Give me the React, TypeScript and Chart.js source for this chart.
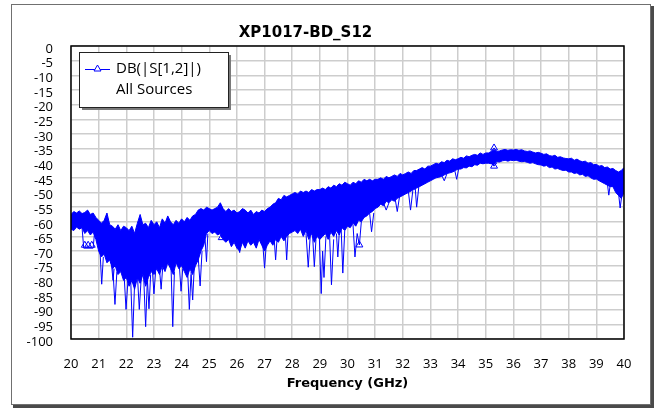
import React, { useEffect, useRef } from "react";
import { Chart, registerables } from "chart.js";

Chart.register(...registerables);

// ---------- data ----------
const TITLE = "XP1017-BD_S12";
const X_TITLE = "Frequency (GHz)";
const LEGEND_LINES = ["DB(|S[1,2]|)", "All Sources"];

const FREQ_GHZ = [
  20.0,
  20.1, 20.2, 20.3, 20.4, 20.5, 20.6, 20.7, 20.8, 20.9, 21.0,
  21.1, 21.2, 21.3, 21.4, 21.5, 21.6, 21.7, 21.8, 21.9, 22.0,
  22.1, 22.2, 22.3, 22.4, 22.5, 22.6, 22.7, 22.8, 22.9, 23.0,
  23.1, 23.2, 23.3, 23.4, 23.5, 23.6, 23.7, 23.8, 23.9, 24.0,
  24.1, 24.2, 24.3, 24.4, 24.5, 24.6, 24.7, 24.8, 24.9, 25.0,
  25.1, 25.2, 25.3, 25.4, 25.5, 25.6, 25.7, 25.8, 25.9, 26.0,
  26.1, 26.2, 26.3, 26.4, 26.5, 26.6, 26.7, 26.8, 26.9, 27.0,
  27.1, 27.2, 27.3, 27.4, 27.5, 27.6, 27.7, 27.8, 27.9, 28.0,
  28.1, 28.2, 28.3, 28.4, 28.5, 28.6, 28.7, 28.8, 28.9, 29.0,
  29.1, 29.2, 29.3, 29.4, 29.5, 29.6, 29.7, 29.8, 29.9, 30.0,
  30.1, 30.2, 30.3, 30.4, 30.5, 30.6, 30.7, 30.8, 30.9, 31.0,
  31.1, 31.2, 31.3, 31.4, 31.5, 31.6, 31.7, 31.8, 31.9, 32.0,
  32.1, 32.2, 32.3, 32.4, 32.5, 32.6, 32.7, 32.8, 32.9, 33.0,
  33.1, 33.2, 33.3, 33.4, 33.5, 33.6, 33.7, 33.8, 33.9, 34.0,
  34.1, 34.2, 34.3, 34.4, 34.5, 34.6, 34.7, 34.8, 34.9, 35.0,
  35.1, 35.2, 35.3, 35.4, 35.5, 35.6, 35.7, 35.8, 35.9, 36.0,
  36.1, 36.2, 36.3, 36.4, 36.5, 36.6, 36.7, 36.8, 36.9, 37.0,
  37.1, 37.2, 37.3, 37.4, 37.5, 37.6, 37.7, 37.8, 37.9, 38.0,
  38.1, 38.2, 38.3, 38.4, 38.5, 38.6, 38.7, 38.8, 38.9, 39.0,
  39.1, 39.2, 39.3, 39.4, 39.5, 39.6, 39.7, 39.8, 39.9, 40.0,
];

// upper edge of the dense band of all traces (dB)
const UPPER_DB = [
  -57.5,
  -56.5, -57, -56.3, -57.2, -56.8, -56, -57.5, -57, -58.5, -59.5,
  -60.5, -59.5, -57, -61, -61.5, -62.5, -61, -63, -61.5, -62,
  -63, -61.5, -64, -60.5, -57.5, -61, -60.5, -62, -59.5, -61,
  -60, -62, -59, -60.5, -58, -60, -61, -59.5, -60.5, -59,
  -60, -58.5, -59.5, -58, -57.5, -56, -55.5, -56, -55, -55.5,
  -56, -55.5, -55, -53.5, -55.5, -56.5, -55.5, -56.5, -56, -57,
  -56.5, -55.5, -56, -57, -56, -57.5, -56.5, -57, -56, -56.5,
  -55.5, -55, -54, -53.5, -52, -52.5, -51, -51.5, -51, -50.5,
  -50, -50.5, -49.5, -50, -49.5, -50, -49, -49.5, -49, -49,
  -48.5, -49, -48, -48.5, -47.5, -48, -47, -47.5, -46.5, -47,
  -47.5, -46.5, -47, -46, -46.5, -45.5, -46, -45.5, -46, -45.5,
  -45.5, -45, -45.5, -44.5, -45, -44.5, -44, -44.5, -43.5, -44,
  -43.5, -43, -43.5, -42.5, -42.5, -42, -41.5, -42, -41, -41,
  -40.5, -40, -40.3, -39.5, -39.8, -39, -39.3, -38.5, -38.8, -38.5,
  -38, -38.3, -37.5, -37.8, -37.3, -37, -37.3, -36.5, -37, -36.5,
  -36.5, -36, -35.5, -36, -35.8, -35.5, -35.3, -35.6, -35.4, -35.5,
  -35.3, -35.6, -35.4, -35.8, -36, -35.8, -36.2, -36.5, -36.3, -36.6,
  -37, -36.8, -37.4, -37.6, -37.3, -38, -37.8, -38.2, -38.4, -38.5,
  -38.3, -39, -38.6, -39.2, -39.5, -39.3, -40, -39.8, -40.5, -40.4,
  -41, -40.8, -41.5, -41.3, -42, -41.8, -42.5, -43, -42.5, -41.5,
];

// lower edge of the dense band of all traces (dB)
const LOWER_DB = [
  -62.5,
  -63, -61.8, -62.5, -62, -64, -63, -64.5, -63.5, -66, -70,
  -72, -71, -74, -73, -76, -75, -78, -77, -80, -79,
  -82, -80, -83, -79, -81, -78, -82, -79, -77, -78,
  -76, -78, -75, -77, -74, -76, -78, -74, -76, -75,
  -77, -79, -76, -78, -75, -73, -70, -68, -64, -63,
  -64, -63.5, -64.5, -64, -66, -67, -66, -68.5, -67, -69,
  -70, -67, -69, -66.5, -68, -67, -69, -66, -68, -70,
  -68, -66.5, -68, -66, -67, -65, -66.5, -65, -64, -63.5,
  -63, -64, -62.5, -65, -63, -66, -64, -67, -65, -66,
  -65, -64, -66, -63.5, -65, -63, -64.5, -62, -63, -61.5,
  -62, -60.5, -61.5, -59.5, -60, -58.5, -58, -57, -56.5, -55.5,
  -55, -54, -54.5, -53, -53.5, -52.5, -53, -52, -51.5, -51,
  -50.5, -50, -49.5, -49, -48.5, -48, -47.5, -47, -46.5, -46,
  -45.5, -45, -44.8, -44.5, -44, -43.5, -43.3, -43, -42.5, -42,
  -42, -41.5, -41.6, -41, -41.2, -40.5, -40.7, -40, -40.2, -40,
  -40, -40.2, -40.5, -39.5, -39.6, -39.2, -39, -39.3, -39, -39.1,
  -39, -39.3, -39.5, -39.4, -39.7, -40, -39.8, -40.2, -40.5, -40.6,
  -41, -40.8, -41.5, -41.3, -42, -41.8, -42.2, -42.5, -42.4, -43,
  -43, -43.5, -43.3, -44, -43.8, -44.5, -44.3, -45, -45.5, -45.4,
  -46, -46.5, -47, -47.5, -48, -48, -50, -51, -52, -50,
];

// individual trace excursions below / above the band (null = break)
const SPIKE_FREQ = [
  20.4, 20.46, 20.8, 20.86, 20.86,
  21.05, 21.11, 21.17, 21.17,
  21.45, 21.52, 21.56, 21.56,
  21.5, 21.59, 21.66, 21.66,
  21.92, 21.99, 22.06, 22.06,
  22.16, 22.23, 22.3, 22.3,
  22.4, 22.47, 22.54, 22.54,
  22.63, 22.7, 22.76, 22.76,
  22.76, 22.82, 22.88, 22.88,
  22.94, 23.0, 23.06, 23.06,
  23.2, 23.26, 23.32, 23.32,
  23.62, 23.68, 23.74, 23.74,
  23.92, 23.98, 24.04, 24.04,
  24.22, 24.28, 24.34, 24.34,
  24.34, 24.4, 24.46, 24.46,
  24.6, 24.67, 24.74, 24.74,
  24.85, 24.9, 24.95, 24.95,
  25.4, 25.45, 25.5, 25.5,
  26.05, 26.1, 26.15, 26.15,
  26.94, 27.0, 27.06, 27.06,
  27.35, 27.4, 27.45, 27.45,
  27.75, 27.8, 27.85, 27.85,
  28.5, 28.58, 28.65, 28.65,
  28.74, 28.8, 28.86, 28.86,
  28.98, 29.05, 29.1, 29.15, 29.22, 29.22,
  29.35, 29.42, 29.5, 29.5,
  29.6, 29.65, 29.7, 29.7,
  29.77, 29.83, 29.9, 29.9,
  30.2, 30.27, 30.35, 30.43, 30.5, 30.5,
  30.8, 30.87, 30.95, 30.95,
  31.3, 31.4, 31.5, 31.5,
  31.72, 31.8, 31.88, 31.88,
  32.2, 32.28, 32.36, 32.36,
  32.45, 32.5, 32.58, 32.58,
  33.4, 33.5, 33.6, 33.6,
  33.88, 33.95, 34.02, 34.02,
  35.2, 35.3, 35.4, 35.4,
  35.2, 35.3, 35.4, 35.4,
  39.4, 39.45, 39.5, 39.5,
  39.8, 39.86, 39.92,
];
const SPIKE_DB = [
  -62, -69, -69, -63, null,
  -70, -81.3, -72, null,
  -73, -80, -76, null,
  -74, -88.2, -77, null,
  -78, -89.9, -80, null,
  -80, -99.4, -81, null,
  -78, -89.9, -79, null,
  -79, -95.8, -80, null,
  -79, -89.7, -78, null,
  -76, -84.6, -77, null,
  -76, -83, -75, null,
  -76, -95.8, -77, null,
  -75, -83.7, -76, null,
  -77, -89.9, -78, null,
  -77, -86.7, -75, null,
  -72, -81.9, -70, null,
  -66, -73.6, -64, null,
  -63, -65.4, -64, null,
  -68, -70.5, -67, null,
  -68, -75.8, -68, null,
  -66, -73, -66, null,
  -64, -73, -64, null,
  -64, -75.5, -65, null,
  -65, -75.3, -66, null,
  -65, -84.5, -70, -79, -65, null,
  -64, -81.5, -66, null,
  -64, -72, -64, null,
  -62, -77.5, -63, null,
  -61, -72, -64, -67.9, -60, null,
  -57, -63.4, -57, null,
  -53.5, -56, -53.5, null,
  -52, -56.5, -51.5, null,
  -49.5, -56, -49.5, null,
  -48.5, -55, -48, null,
  -44, -46, -43.5, null,
  -42.5, -45.5, -42, null,
  -36, -34.8, -36, null,
  -40, -41, -40, null,
  -47, -50.9, -47.5, null,
  -50, -55.3, -51,
];

// triangle marker positions on traces
const MARKER_FREQ = [20.5, 20.62, 20.75, 25.45, 30.43, 35.3, 35.3];
const MARKER_DB = [-68, -68, -68, -65.4, -67.9, -34.8, -41];

const X_MIN = 20;
const X_MAX = 40;
const Y_MIN = -100;
const Y_MAX = 0;

// ---------- styles ----------
const BLUE = "#0000ff";
const TICK_FONT = { family: "'Open Sans', sans-serif", size: 13 };

const decorPlugin = {
  id: "decor",
  beforeDraw(chart: any) {
    const ctx = chart.ctx;
    ctx.save();
    ctx.fillStyle = "#ffffff";
    ctx.fillRect(0, 0, chart.width, chart.height);
    // outer frame with shadow
    ctx.fillStyle = "#4a4a4a";
    ctx.fillRect(13, 6, 641, 402);
    ctx.fillStyle = "#ffffff";
    ctx.fillRect(11, 4, 640, 401);
    ctx.strokeStyle = "#707070";
    ctx.lineWidth = 1;
    ctx.strokeRect(11.5, 4.5, 639, 400);
    ctx.restore();
  },
  afterDatasetsDraw(chart: any) {
    const ctx = chart.ctx;
    const a = chart.chartArea;
    ctx.save();
    ctx.strokeStyle = "#000000";
    ctx.lineWidth = 1.5;
    ctx.strokeRect(a.left, a.top, a.right - a.left, a.bottom - a.top);
    ctx.restore();
  },
  afterDraw(chart: any) {
    const ctx = chart.ctx;
    ctx.save();
    // title
    ctx.fillStyle = "#000000";
    ctx.font = "bold 15px 'DejaVu Sans'";
    ctx.textAlign = "center";
    ctx.textBaseline = "alphabetic";
    ctx.fillText(TITLE, 305.5, 37);

    // legend box
    ctx.fillStyle = "#7a7a7a";
    ctx.fillRect(82, 55, 149, 55);
    ctx.fillStyle = "#ffffff";
    ctx.fillRect(79, 52, 149, 55);
    ctx.strokeStyle = "#222222";
    ctx.lineWidth = 1;
    ctx.strokeRect(79.5, 52.5, 149, 55);

    ctx.strokeStyle = BLUE;
    ctx.beginPath();
    ctx.moveTo(85, 69.5);
    ctx.lineTo(110, 69.5);
    ctx.stroke();
    ctx.beginPath();
    ctx.moveTo(97.5, 65);
    ctx.lineTo(94, 71);
    ctx.lineTo(101, 71);
    ctx.closePath();
    ctx.fillStyle = "#ffffff";
    ctx.fill();
    ctx.stroke();

    ctx.fillStyle = "#000000";
    ctx.font = "15px 'Open Sans'";
    ctx.textAlign = "left";
    ctx.textBaseline = "middle";
    ctx.fillText(LEGEND_LINES[0], 116, 69);
    ctx.fillText(LEGEND_LINES[1], 116, 90);
    ctx.restore();
  },
};

export default function App() {
  const canvasRef = useRef<HTMLCanvasElement>(null);

  useEffect(() => {
    const upper = FREQ_GHZ.map((f, i) => ({ x: f, y: UPPER_DB[i] }));
    const lower = FREQ_GHZ.map((f, i) => ({ x: f, y: LOWER_DB[i] }));
    const spikes = SPIKE_FREQ.map((f, i) => ({ x: f, y: SPIKE_DB[i] }));
    const markers = MARKER_FREQ.map((f, i) => ({ x: f, y: MARKER_DB[i] }));

    const chart = new Chart(canvasRef.current as HTMLCanvasElement, {
      type: "line",
      data: {
        datasets: [
          {
            label: "upper",
            data: upper as any,
            borderColor: BLUE,
            borderWidth: 1,
            pointRadius: 0,
            fill: false,
            tension: 0,
          },
          {
            label: "lower",
            data: lower as any,
            borderColor: BLUE,
            borderWidth: 1,
            pointRadius: 0,
            fill: "-1",
            backgroundColor: BLUE,
            tension: 0,
          },
          {
            label: "spikes",
            data: spikes as any,
            borderColor: BLUE,
            borderWidth: 1,
            pointRadius: 0,
            spanGaps: false,
            fill: false,
            tension: 0,
          },
          {
            label: "markers",
            data: markers as any,
            showLine: false,
            pointStyle: "triangle",
            pointRadius: 4,
            borderColor: BLUE,
            borderWidth: 1,
            backgroundColor: "rgba(0,0,0,0)",
          },
        ],
      },
      options: {
        animation: false,
        responsive: false,
        devicePixelRatio: 1,
        events: [],
        layout: { padding: { left: 0, right: 30, top: 46, bottom: 0 } },
        plugins: {
          legend: { display: false },
          tooltip: { enabled: false },
          title: { display: false },
        },
        scales: {
          x: {
            type: "linear",
            min: X_MIN,
            max: X_MAX,
            ticks: {
              stepSize: 1,
              color: "#000000",
              font: TICK_FONT,
              padding: 17,
              maxRotation: 0,
              autoSkip: false,
            },
            grid: { color: "#cdcdcd", lineWidth: 1.5, drawTicks: false },
            border: { display: false },
            title: {
              display: true,
              text: X_TITLE,
              color: "#000000",
              font: { family: "'DejaVu Sans'", size: 13, weight: "bold" },
              padding: { top: 0, bottom: 18 },
            },
            afterFit: (s: any) => {
              s.height = 70;
            },
          },
          y: {
            type: "linear",
            min: Y_MIN,
            max: Y_MAX,
            ticks: {
              stepSize: 5,
              color: "#000000",
              font: TICK_FONT,
              padding: 18,
              labelOffset: 3,
              autoSkip: false,
            },
            grid: { color: "#cdcdcd", lineWidth: 1.5, drawTicks: false },
            border: { display: false },
            afterFit: (s: any) => {
              s.width = 71;
            },
          },
        },
      } as any,
      plugins: [decorPlugin],
    });
    return () => chart.destroy();
  }, []);

  return (
    <div
      style={{
        position: "fixed",
        left: 0,
        top: 0,
        width: 654,
        height: 409,
        background: "#ffffff",
      }}
    >
      <canvas
        ref={canvasRef}
        width={654}
        height={409}
        style={{ display: "block", width: 654, height: 409 }}
      />
    </div>
  );
}
